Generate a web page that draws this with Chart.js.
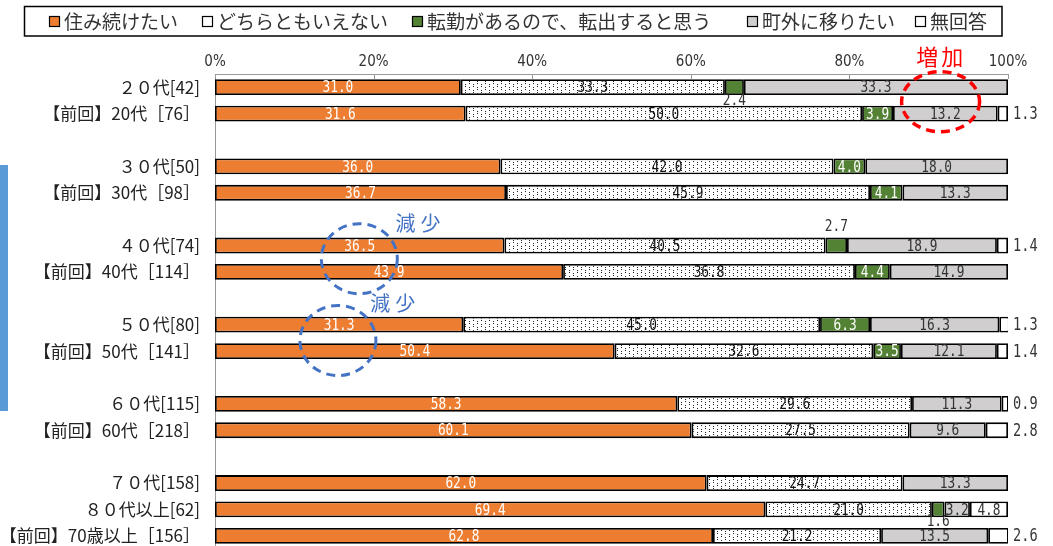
<!DOCTYPE html>
<html><head><meta charset="utf-8">
<script src="https://cdn.jsdelivr.net/npm/chart.js@4.4.1/dist/chart.umd.min.js"></script>
<style>html,body{margin:0;padding:0;background:#fff;overflow:hidden;width:1053px;height:546px}canvas{display:block}</style>
</head><body><canvas id="c" width="1053" height="550"></canvas>
<script>
// ---------- data ----------
const categories = ['２０代[42]','【前回】20代［76］','','３０代[50]','【前回】30代［98］','','４０代[74]','【前回】40代［114］','','５０代[80]','【前回】50代［141］','','６０代[115]','【前回】60代［218］','','７０代[158]','８０代以上[62]','【前回】70歳以上［156］'];
const seriesNames = ['住み続けたい','どちらともいえない','転勤があるので、転出すると思う','町外に移りたい','無回答'];
const liveOn   = [31.0,31.6,null,36.0,36.7,null,36.5,43.9,null,31.3,50.4,null,58.3,60.1,null,62.0,69.4,62.8];
const neither  = [33.3,50.0,null,42.0,45.9,null,40.5,36.8,null,45.0,32.6,null,29.6,27.5,null,24.7,21.0,21.2];
const transfer = [2.4,3.9,null,4.0,4.1,null,2.7,4.4,null,6.3,3.5,null,null,null,null,null,1.6,null];
const moveOut  = [33.3,13.2,null,18.0,13.3,null,18.9,14.9,null,16.3,12.1,null,11.3,9.6,null,13.3,3.2,13.5];
const noAnswer = [null,1.3,null,null,null,null,1.4,null,null,1.3,1.4,null,0.9,2.8,null,null,4.8,2.6];
const xTicks = [0,20,40,60,80,100];

// ---------- styles ----------
const ORANGE='#ED7D31', GREEN='#548235', GRAY='#D0CECE', WHITE='#FFFFFF';
const legendFill = [ORANGE, WHITE, GREEN, GRAY, WHITE];
const legendX = [49,202,412,747,915];
const smallGreenOffset = {0:14, 6:-19, 16:12};
const canvas = document.getElementById('c');
const ctx0 = canvas.getContext('2d');
function dotPattern(){
  const t=document.createElement('canvas'); t.width=8; t.height=6;
  const g=t.getContext('2d'); g.fillStyle='#fff'; g.fillRect(0,0,8,6);
  g.fillStyle='#222'; [[1,0],[1,2],[5,3],[5,5]].forEach(p=>g.fillRect(p[0],p[1],1,1));
  return ctx0.createPattern(t,'repeat');
}
const DOTS = dotPattern();
const SX = 0.8;
function condText(ctx, txt, x, y, align, color, size){
  ctx.save();
  ctx.font = size+'px "DejaVu Sans Mono", monospace';
  ctx.fillStyle=color; ctx.textBaseline='middle'; ctx.textAlign='left';
  const w = ctx.measureText(txt).width*SX;
  const x0 = align==='center' ? x-w/2 : (align==='left' ? x : x-w);
  ctx.translate(x0,y); ctx.scale(SX,1); ctx.fillText(txt,0,0);
  ctx.restore();
}

const labelPlugin = {
  id:'labels',
  afterDatasetsDraw(chart){
    const ctx=chart.ctx;
    chart.data.datasets.forEach((ds,di)=>{
      const meta=chart.getDatasetMeta(di);
      ds.data.forEach((v,i)=>{
        if(v===null||v===undefined) return;
        const el=meta.data[i]; const cx=(el.x+el.base)/2, cy=el.y;
        const t=v.toFixed(1);
        if(di===0) condText(ctx,t,cx,cy+1,'center','#FFFFFF',16);
        else if(di===1) condText(ctx,t,cx,cy+1,'center','#111111',16);
        else if(di===2){
          if(v>=3) condText(ctx,t,cx,cy+1,'center','#FFFFFF',16);
          else condText(ctx,t,cx,cy+(smallGreenOffset[i]||14),'center','#333333',16);
        }
        else if(di===3) condText(ctx,t,cx,cy+1,'center','#333333',16);
        else {
          if(v>=4) condText(ctx,t,cx,cy+1,'center','#333333',16);
          else condText(ctx,t,chart.chartArea.right+5,cy+1,'left','#333333',17);
        }
      });
    });
  }
};

const decoPlugin = {
  id:'deco',
  afterDraw(chart){
    const ctx=chart.ctx, xs=chart.scales.x, ys=chart.scales.y, ca=chart.chartArea;
    ctx.save();
    // inner tick marks on top axis
    ctx.strokeStyle='#999'; ctx.lineWidth=1;
    xTicks.forEach(v=>{const x=Math.round(xs.getPixelForValue(v))+0.5; ctx.beginPath(); ctx.moveTo(x,ca.top); ctx.lineTo(x,ca.top+5); ctx.stroke();});
    // legend frame + items
    ctx.strokeStyle='#000'; ctx.lineWidth=1.5; ctx.strokeRect(24.5,6.5,977.5,29.5);
    ctx.font='19px "Noto Sans CJK JP", sans-serif'; ctx.textBaseline='middle'; ctx.textAlign='left';
    chart.data.datasets.forEach((ds,i)=>{
      const x=legendX[i];
      ctx.fillStyle=legendFill[i]; ctx.fillRect(x,16,11,11);
      ctx.lineWidth=1.2; ctx.strokeStyle='#000'; ctx.strokeRect(x+0.5,16.5,10,10);
      ctx.fillStyle='#333'; ctx.fillText(ds.label,x+15,21.5);
    });
    // left blue bar
    ctx.fillStyle='#5B9BD5'; ctx.fillRect(0,165,8,246);
    // annotations
    const yAt=(idx)=>ys.getPixelForValue(Math.floor(idx))+(idx-Math.floor(idx))*(ys.getPixelForValue(1)-ys.getPixelForValue(0));
    ctx.setLineDash([9,6]);
    ctx.strokeStyle='#FF0000'; ctx.lineWidth=3.5;
    ctx.beginPath(); ctx.ellipse(xs.getPixelForValue(91.5), yAt(0.55), 39, 30, 0, 0, Math.PI*2); ctx.stroke();
    ctx.strokeStyle='#4472C4'; ctx.lineWidth=3;
    ctx.beginPath(); ctx.ellipse(xs.getPixelForValue(18.2), yAt(6.5), 38, 35, 0, 0, Math.PI*2); ctx.stroke();
    ctx.beginPath(); ctx.ellipse(xs.getPixelForValue(15.5), yAt(9.6), 38, 35, 0, 0, Math.PI*2); ctx.stroke();
    ctx.setLineDash([]);
    ctx.textAlign='center';
    ctx.font='22px "Noto Sans CJK JP", sans-serif'; ctx.fillStyle='#FF0000';
    ctx.letterSpacing='3px';
    ctx.fillText('増加', xs.getPixelForValue(91.4)+1.5, 57);
    ctx.font='20px "Noto Sans CJK JP", sans-serif'; ctx.fillStyle='#4472C4'; ctx.letterSpacing='5px';
    ctx.fillText('減少', xs.getPixelForValue(25.6)+2.5, yAt(6)-22);
    ctx.fillText('減少', xs.getPixelForValue(22.4)+2.5, yAt(9)-21);
    ctx.restore();
  }
};

const common = {borderColor:'#000', borderWidth:1.8, borderSkipped:false};
new Chart(canvas,{
  type:'bar',
  data:{labels:categories, datasets:[
    Object.assign({label:seriesNames[0], data:liveOn, backgroundColor:ORANGE},common),
    Object.assign({label:seriesNames[1], data:neither, backgroundColor:DOTS},common),
    Object.assign({label:seriesNames[2], data:transfer, backgroundColor:GREEN},common),
    Object.assign({label:seriesNames[3], data:moveOut, backgroundColor:GRAY},common),
    Object.assign({label:seriesNames[4], data:noAnswer, backgroundColor:WHITE},common)
  ]},
  options:{
    indexAxis:'y', responsive:false, animation:false,
    layout:{padding:{left:0,right:45,top:0,bottom:1}},
    plugins:{legend:{display:false}, tooltip:{enabled:false}},
    datasets:{bar:{categoryPercentage:1, barPercentage:0.6}},
    scales:{
      x:{position:'top', stacked:true, min:0, max:100,
         grid:{display:false, drawTicks:false}, border:{display:true, color:'#999'},
         ticks:{stepSize:20, padding:3, callback:v=>v+'%', color:'#333',
                font:{family:'"Liberation Sans Narrow", "DejaVu Sans Condensed", sans-serif', size:15}},
         afterFit(s){s.height=74; s.paddingLeft=0; s.paddingRight=0;}},
      y:{stacked:true, grid:{display:false, drawTicks:false}, border:{display:true, color:'#999'},
         ticks:{autoSkip:false, padding:15, color:'#222', font:{family:'"Noto Sans CJK JP", sans-serif', size:17}},
         afterFit(s){s.width=215; s.paddingTop=0; s.paddingBottom=0;}}
    }
  },
  plugins:[labelPlugin, decoPlugin]
});
</script></body></html>
